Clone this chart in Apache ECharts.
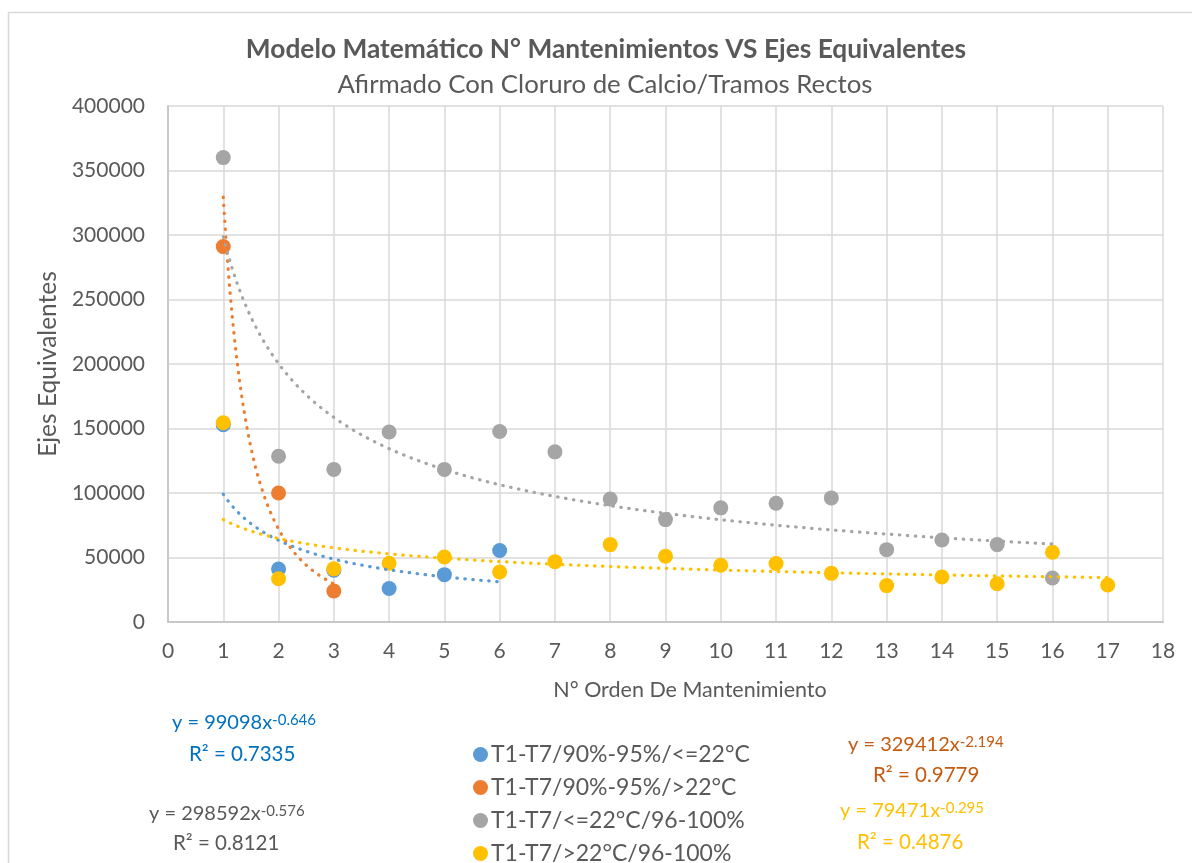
<!DOCTYPE html>
<html>
<head>
<meta charset="utf-8">
<script src="https://cdn.jsdelivr.net/npm/echarts@6/dist/echarts.min.js"></script>
<style>
html,body{margin:0;padding:0;background:#fff;}
#main{width:1192px;height:863px;}
</style>
</head>
<body>
<div id="main"></div>
<script>
// ---- data ----
const seriesNames = ['T1-T7/90%-95%/<=22°C', 'T1-T7/90%-95%/>22°C', 'T1-T7/<=22°C/96-100%', 'T1-T7/>22°C/96-100%'];
const blueX = [1, 2, 3, 4, 5, 6];
const blueY = [153000, 41000, 40200, 26000, 36700, 55400];
const orangeX = [1, 2, 3];
const orangeY = [291000, 100000, 24000];
const grayX = [1, 2, 3, 4, 5, 6, 7, 8, 9, 10, 11, 12, 13, 14, 15, 16];
const grayY = [360000, 128500, 118300, 147300, 118300, 147700, 131900, 95400, 79400, 88500, 92100, 96200, 56100, 63600, 60000, 34100];
const yellowX = [1, 2, 3, 4, 5, 6, 7, 8, 9, 10, 11, 12, 13, 14, 15, 16, 17];
const yellowY = [154500, 33500, 41200, 45500, 50400, 38800, 46800, 60000, 51000, 44000, 45300, 37700, 28200, 34900, 29700, 54100, 28700];
// power trendlines shown on the chart: y = a * x^b
const trendA = [99098, 329412, 298592, 79471];
const trendB = [-0.646, -2.194, -0.576, -0.295];
const trendR2 = ['0.7335', '0.9779', '0.8121', '0.4876'];
const xTicks = [0, 18, 1];
const yTicks = [0, 400000, 50000];

const colors = ['#5B9BD5', '#ED7D31', '#A5A5A5', '#FFC000'];
const xs = [blueX, orangeX, grayX, yellowX];
const ys = [blueY, orangeY, grayY, yellowY];

const FONT = 'Lato';
const TXT = '#595959';

const series = [];
for (let i = 0; i < 4; i++) {
  series.push({
    name: seriesNames[i], type: 'scatter', symbol: 'circle', symbolSize: 15,
    itemStyle: { color: colors[i], opacity: 1 },
    data: xs[i].map((x, k) => [x, ys[i][k]]), z: 2
  });
}
for (let i = 0; i < 4; i++) {
  const x0 = Math.min(...xs[i]), x1 = Math.max(...xs[i]);
  const pts = [];
  const n = 200;
  for (let k = 0; k <= n; k++) {
    const x = x0 + (x1 - x0) * k / n;
    pts.push([x, trendA[i] * Math.pow(x, trendB[i])]);
  }
  series.push({
    name: 'trend' + i, type: 'line', showSymbol: false, symbol: 'none', silent: true,
    data: pts, z: 3,
    lineStyle: { color: colors[i], width: 3.2, type: [0.5, 7.5], cap: 'round' }
  });
}

function eqLines(x1, y1, x2, y2, i, col) {
  return [
    { type: 'text', x: x1, y: y1, style: { text: '{m|y = ' + trendA[i] + 'x}{s|' + trendB[i] + '}', fill: col,
      textAlign: 'left', textVerticalAlign: 'middle',
      rich: { m: { fontSize: 20, fontFamily: FONT, fill: col, verticalAlign: 'bottom' },
              s: { fontSize: 15, fontFamily: FONT, fill: col, verticalAlign: 'top' } } } },
    { type: 'text', x: x2, y: y2, style: { text: 'R² = ' + trendR2[i], fill: col, font: '20.5px ' + FONT,
      textAlign: 'left', textVerticalAlign: 'middle' } }
  ];
}

const chart = echarts.init(document.getElementById('main'), null, { renderer: 'canvas' });
chart.setOption({
  animation: false,
  backgroundColor: '#fff',
  color: colors,
  grid: { left: 168, right: 29, top: 106, bottom: 241, containLabel: false },
  xAxis: {
    type: 'value', min: xTicks[0], max: xTicks[1], interval: xTicks[2],
    axisLine: { show: true, lineStyle: { color: '#c8c8c8', width: 2 } },
    axisTick: { show: false },
    axisLabel: { color: TXT, fontSize: 21, fontFamily: FONT, margin: 19, formatter: v => String(v) },
    splitLine: { show: true, lineStyle: { color: '#d9d9d9', width: 1.5 } }
  },
  yAxis: {
    type: 'value', min: yTicks[0], max: yTicks[1], interval: yTicks[2],
    axisLine: { show: true, lineStyle: { color: '#c8c8c8', width: 2 } },
    axisTick: { show: false },
    axisLabel: { color: TXT, fontSize: 21, fontFamily: FONT, margin: 23, formatter: v => String(v) },
    splitLine: { show: true, lineStyle: { color: '#d9d9d9', width: 1.5 } }
  },
  legend: {
    data: seriesNames, orient: 'vertical', left: 468, top: 738, height: 300,
    icon: 'circle', itemWidth: 15, itemHeight: 15, itemGap: 10,
    textStyle: { color: TXT, fontSize: 23, fontFamily: FONT, padding: [0, 0, 0, -2] }
  },
  graphic: [
    { type: 'rect', shape: { x: 8.5, y: 12.5, width: 1400, height: 1000 }, style: { fill: 'none', stroke: '#d9d9d9', lineWidth: 1.5 }, silent: true },
    { type: 'text', x: 606, y: 50, style: { text: 'Modelo Matemático N° Mantenimientos VS Ejes Equivalentes', fill: TXT, font: 'bold 26.3px ' + FONT, textAlign: 'center', textVerticalAlign: 'middle' } },
    { type: 'text', x: 605, y: 85, style: { text: 'Afirmado Con Cloruro de Calcio/Tramos Rectos', fill: TXT, font: '25.8px ' + FONT, textAlign: 'center', textVerticalAlign: 'middle' } },
    { type: 'text', x: 690, y: 690, style: { text: 'N° Orden De Mantenimiento', fill: TXT, font: '21.5px ' + FONT, textAlign: 'center', textVerticalAlign: 'middle' } },
    { type: 'text', x: 48, y: 364, rotation: Math.PI / 2, style: { text: 'Ejes Equivalentes', fill: TXT, font: '24.5px ' + FONT, textAlign: 'center', textVerticalAlign: 'middle' } },
    ...eqLines(172, 723, 189, 754, 0, '#0070C0'),
    ...eqLines(149, 814, 173, 843, 2, '#595959'),
    ...eqLines(848, 745, 873, 775, 1, '#C55A11'),
    ...eqLines(840, 811, 857, 842, 3, '#FFC000')
  ],
  series: series
});
</script>
</body>
</html>
